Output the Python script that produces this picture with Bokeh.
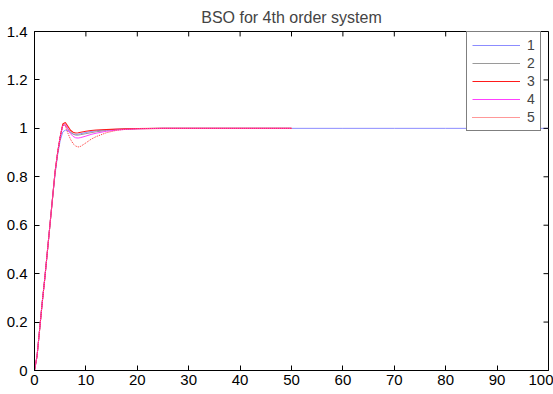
from bokeh.plotting import figure
from bokeh.models import Range1d, FixedTicker, Legend, LegendItem
from bokeh.embed import file_html
from bokeh.resources import INLINE

# ---- data ----
title_text = "BSO for 4th order system"
series_names = ["1", "2", "3", "4", "5"]

t = [0, 0.5, 1, 1.5, 2, 2.5, 3, 3.5, 4, 4.5, 5, 5.5, 6, 6.5, 7, 7.5, 8, 8.5,
     9, 10, 11, 12, 14, 16, 18, 20, 25, 30, 40, 50]
t_long = t + [60, 70, 80, 90, 100]

y1 = [0, 0.06, 0.17, 0.28, 0.38, 0.49, 0.60, 0.71, 0.81, 0.89, 0.95, 0.985, 0.993, 0.99, 0.983, 0.977, 0.975,
      0.976, 0.978, 0.983, 0.987, 0.990, 0.994, 0.996, 0.998, 0.999, 1.0, 1.0, 1.0, 1.0,
      1.0, 1.0, 1.0, 1.0, 1.0]
y2 = [0, 0.06, 0.17, 0.28, 0.38, 0.49, 0.60, 0.71, 0.82, 0.90, 0.965, 1.012, 1.015, 0.998, 0.984, 0.976, 0.972,
      0.972, 0.974, 0.978, 0.982, 0.986, 0.991, 0.995, 0.997, 0.999, 1.0, 1.0, 1.0, 1.0]
y3 = [0, 0.06, 0.17, 0.28, 0.38, 0.49, 0.60, 0.71, 0.82, 0.90, 0.965, 1.018, 1.024, 1.008, 0.992, 0.984, 0.981,
      0.982, 0.984, 0.988, 0.991, 0.993, 0.995, 0.997, 0.998, 0.999, 1.0, 1.0, 1.0, 1.0]
y4 = [0, 0.06, 0.17, 0.28, 0.38, 0.49, 0.60, 0.71, 0.82, 0.90, 0.965, 1.012, 1.015, 0.995, 0.978, 0.967, 0.961,
      0.960, 0.962, 0.968, 0.975, 0.980, 0.988, 0.993, 0.996, 0.998, 1.0, 1.0, 1.0, 1.0]
y5 = [0, 0.06, 0.17, 0.28, 0.38, 0.49, 0.60, 0.71, 0.82, 0.90, 0.965, 1.015, 1.01, 0.98, 0.955, 0.937, 0.927,
      0.923, 0.926, 0.940, 0.955, 0.966, 0.982, 0.992, 0.997, 0.999, 1.0, 1.0, 1.0, 1.0]

x_range_lim = [0, 100]
y_range_lim = [0, 1.4]
x_ticks = [0, 10, 20, 30, 40, 50, 60, 70, 80, 90, 100]
y_ticks = [0, 0.2, 0.4, 0.6, 0.8, 1.0, 1.2, 1.4]
y_tick_labels = ["0", "0.2", "0.4", "0.6", "0.8", "1", "1.2", "1.4"]

# ---- figure ----
FONT = "Liberation Sans"
W, H = 553, 394
BL, BR, BT, BB = 34, 5, 0, 24
p = figure(width=W, height=H, x_range=Range1d(*x_range_lim), y_range=Range1d(*y_range_lim),
           output_backend="svg", toolbar_location=None, title=title_text,
           min_border_left=BL, min_border_right=BR, min_border_top=BT, min_border_bottom=BB)
p.background_fill_color = "white"
p.border_fill_color = "white"
p.outline_line_color = "black"
p.outline_line_width = 1
p.xgrid.visible = False
p.ygrid.visible = False

p.title.text_font = FONT
p.title.text_font_size = "16px"
p.title.text_font_style = "normal"
p.title.align = "center"
p.title.standoff = 12

for ax in (p.xaxis[0], p.yaxis[0]):
    ax.major_label_text_font = FONT
    ax.major_label_text_font_size = "15px"
    ax.major_label_text_color = "black"
    ax.major_tick_in = 5
    ax.major_tick_out = 0
    ax.minor_tick_line_color = None
    ax.axis_line_color = "black"
    ax.major_tick_line_color = "black"
p.xaxis[0].ticker = FixedTicker(ticks=x_ticks)
p.yaxis[0].ticker = FixedTicker(ticks=y_ticks)
p.yaxis[0].major_label_overrides = {v: s for v, s in zip(y_ticks, y_tick_labels)}
p.yaxis[0].major_label_standoff = 7
p.xaxis[0].major_label_standoff = 4

# ---- lines ----
r1 = p.line(t_long, y1, line_color="#8c8cff", line_width=1)
r2 = p.line(t, y2, line_color="#9a9a9a", line_width=1)
r3 = p.line(t, y3, line_color="#ff1a1a", line_width=1.1)
r4 = p.line(t, y4, line_color="#ff40ff", line_width=1)
r5 = p.line(t, y5, line_color="#ff3030", line_width=1, line_dash="1 1")

# inward ticks on the top and right edges of the box (5 px long, converted to data units)
frame_w = W - BL - BR
frame_h = 343
dx = (x_range_lim[1] - x_range_lim[0]) * 5 / frame_w
dy = (y_range_lim[1] - y_range_lim[0]) * 5 / frame_h
p.segment(x0=x_ticks, y0=[y_range_lim[1]] * len(x_ticks), x1=x_ticks, y1=[y_range_lim[1] - dy] * len(x_ticks),
          line_color="black", line_width=1)
p.segment(x0=[x_range_lim[1]] * len(y_ticks), y0=y_ticks, x1=[x_range_lim[1] - dx] * len(y_ticks), y1=y_ticks,
          line_color="black", line_width=1)

legend = Legend(items=[LegendItem(label=n, renderers=[r]) for n, r in zip(series_names, [r1, r2, r3, r4, r5])],
                location=(432, 239), margin=0, padding=5, spacing=2,
                label_height=16, glyph_height=16, glyph_width=48, label_width=4, label_standoff=7,
                label_text_font=FONT, label_text_font_size="14px",
                border_line_color="black", border_line_width=1,
                background_fill_color="white", background_fill_alpha=1)
p.add_layout(legend)

open("out.html", "w").write(file_html(p, INLINE))
